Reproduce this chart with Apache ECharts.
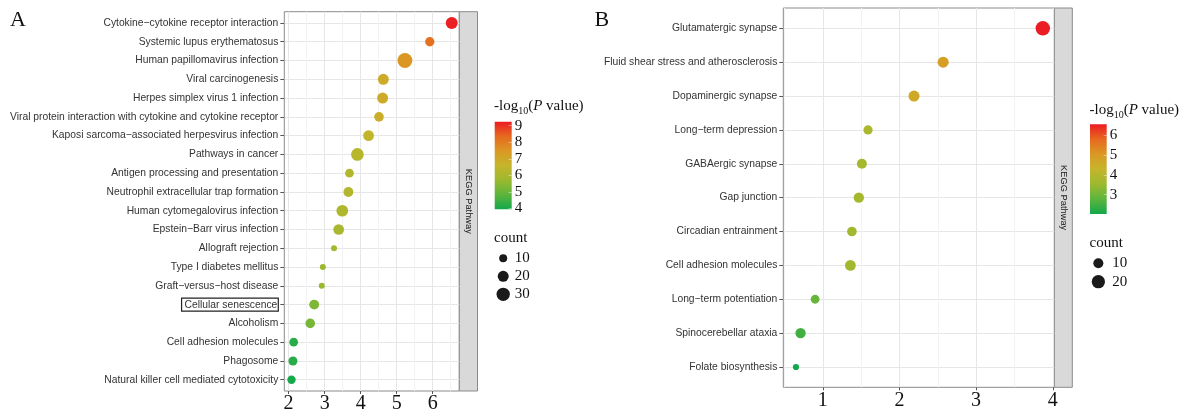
<!DOCTYPE html>
<html><head><meta charset="utf-8">
<script src="https://cdn.jsdelivr.net/npm/echarts@6/dist/echarts.min.js"></script>
<style>html,body{margin:0;padding:0;background:#fff}#c{width:1182px;height:414px}</style>
</head><body><div id="c"></div>
<script>
// ---------- Panel A data ----------
const catA = ['Cytokine\u2212cytokine receptor interaction','Systemic lupus erythematosus','Human papillomavirus infection','Viral carcinogenesis','Herpes simplex virus 1 infection','Viral protein interaction with cytokine and cytokine receptor','Kaposi sarcoma\u2212associated herpesvirus infection','Pathways in cancer','Antigen processing and presentation','Neutrophil extracellular trap formation','Human cytomegalovirus infection','Epstein\u2212Barr virus infection','Allograft rejection','Type I diabetes mellitus','Graft\u2212versus\u2212host disease','Cellular senescence','Alcoholism','Cell adhesion molecules','Phagosome','Natural killer cell mediated cytotoxicity'];
const xA = [6.53, 5.92, 5.23, 4.63, 4.61, 4.51, 4.22, 3.91, 3.69, 3.66, 3.49, 3.39, 3.26, 2.95, 2.92, 2.71, 2.60, 2.14, 2.12, 2.08];
const pA = [9.2, 8.2, 7.5, 6.9, 6.9, 6.8, 6.5, 6.3, 6.2, 6.2, 6.1, 6.0, 5.9, 5.7, 5.7, 5.3, 5.2, 4.2, 4.2, 4.0];
const cntA = [24, 14, 38, 20, 20, 15, 19, 27, 12, 16, 23, 19, 5, 5, 5, 16, 15, 12, 13, 11];
const xTicksA = [2, 3, 4, 5, 6];
const xMinorA = [2.5, 3.5, 4.5, 5.5, 6.5];
const colorTicksA = [4, 5, 6, 7, 8, 9];
const countLegendA = [10, 20, 30];
const boxedA = 'Cellular senescence';

// ---------- Panel B data ----------
const catB = ['Glutamatergic synapse','Fluid shear stress and atherosclerosis','Dopaminergic synapse','Long\u2212term depression','GABAergic synapse','Gap junction','Circadian entrainment','Cell adhesion molecules','Long\u2212term potentiation','Spinocerebellar ataxia','Folate biosynthesis'];
const xB = [3.87, 2.57, 2.19, 1.59, 1.51, 1.47, 1.38, 1.36, 0.90, 0.71, 0.65];
const pB = [6.56, 4.9, 4.6, 3.8, 3.7, 3.7, 3.6, 3.6, 2.9, 2.5, 2.02];
const cntB = [24, 13, 13, 8, 10, 11, 9, 12, 7, 11, 2];
const xTicksB = [1, 2, 3, 4];
const xMinorB = [0.5, 1.5, 2.5, 3.5];
const colorTicksB = [3, 4, 5, 6];
const countLegendB = [10, 20];

// ---------- styling ----------
const gradColors = ['#12A84B','#5DB53C','#9CB92F','#C5B52B','#DB9824','#E6691F','#EC1C24'];
const rangeA = [3.95, 9.24], rangeB = [2.02, 6.56];
const sizeA = c => Math.sqrt(5.65 * c + 7.5);
const sizeB = c => Math.sqrt(7.7 * c + 23);
const SERIF = '"Liberation Serif","Times New Roman",serif';
const SANS = '"Liberation Sans",Arial,Helvetica,sans-serif';
const BORDER = '#8a8a8a', MAJOR = '#E6E6E6', MINOR = '#F2F2F2', TICK = '#555', LABEL = '#333';

function grad() {
  return {type:'linear', x:0, y:1, x2:0, y2:0, global:false,
    colorStops: gradColors.map((c, i) => ({offset: i / (gradColors.length - 1), color: c}))};
}
const idx = arr => arr.map((_, i) => i);

function mainX(grid, min, max, ticks) {
  return {gridIndex: grid, type:'value', min, max, position:'bottom',
    axisLine:{show:false, onZero:false},
    axisTick:{show:true, customValues:ticks, length:3, lineStyle:{color:TICK}},
    axisLabel:{customValues:ticks, fontFamily:SERIF, fontSize:20, color:'#111', margin:3},
    splitLine:{show:true, lineStyle:{color:MAJOR, width:1}}};
}
function minorX(grid, min, max, ticks) {
  return {gridIndex: grid, type:'value', min, max, position:'top',
    axisLine:{show:false, onZero:false}, axisTick:{show:false, customValues:ticks}, axisLabel:{show:false},
    splitLine:{show:true, lineStyle:{color:MINOR, width:1}}};
}
function catY(grid, cats, boxed) {
  const ids = idx(cats);
  return {gridIndex: grid, type:'value', inverse:true, min:-0.6, max:cats.length - 1 + 0.6,
    axisLine:{show:false, onZero:false},
    axisTick:{show:true, customValues:ids, length:4, lineStyle:{color:TICK}},
    axisLabel:{customValues:ids, fontFamily:SANS, fontSize:10.3, color:LABEL, margin:6,
      formatter: v => { const n = cats[Math.round(v)]; return n === boxed ? '{box|' + n + '}' : n; },
      rich:{box:{fontFamily:SANS, fontSize:10.3, color:LABEL, borderColor:'#222', borderWidth:1.2, padding:[2,1,1,3]}}},
    splitLine:{show:true, lineStyle:{color:MAJOR, width:1}}};
}
function cbY(grid, range, ticks) {
  return {gridIndex: grid, type:'value', min:range[0], max:range[1], position:'right',
    axisLine:{show:false, onZero:false},
    axisTick:{show:true, inside:true, customValues:ticks, length:3, lineStyle:{color:'rgba(255,255,255,0.45)'}},
    axisLabel:{customValues:ticks, fontFamily:SERIF, fontSize:15, color:'#111', margin:3},
    splitLine:{show:false}};
}
function cntY(grid, vals, margin) {
  return {gridIndex: grid, type:'category', inverse:true, position:'right', data: vals.map(String),
    axisLine:{show:false, onZero:false}, axisTick:{show:false},
    axisLabel:{interval:0, fontFamily:SERIF, fontSize:15, color:'#111', margin}, splitLine:{show:false}};
}
const hiddenX = g => ({gridIndex:g, type:'value', min:-1, max:1, show:false, axisLine:{onZero:false}});

function titleText(x, y) {
  return {type:'text', x, y, silent:true, style:{
    text:'{a|-log}{s|10}{a|(}{i|P}{a| value)}', verticalAlign:'middle',
    rich:{
      a:{fontFamily:SERIF, fontSize:15, fill:'#111', lineHeight:20, verticalAlign:'middle'},
      s:{fontFamily:SERIF, fontSize:10, fill:'#111', lineHeight:20, verticalAlign:'bottom'},
      i:{fontFamily:SERIF, fontSize:15, fontStyle:'italic', fill:'#111', lineHeight:20, verticalAlign:'middle'}
    }}};
}
function plainText(x, y, t, font, size) {
  return {type:'text', x, y, silent:true, style:{text:t, fontFamily:font, fontSize:size, fill:'#111', verticalAlign:'middle'}};
}
function strip(x, y, w, h) {
  return [
    {type:'rect', silent:true, shape:{x, y, width:w, height:h}, style:{fill:'#D9D9D9', stroke:BORDER, lineWidth:1}},
    {type:'text', silent:true, x: x + w / 2, y: y + h / 2, rotation:-Math.PI / 2,
      style:{text:'KEGG Pathway', fontFamily:SANS, fontSize:9.3, fill:'#1a1a1a', align:'center', verticalAlign:'middle'}}
  ];
}

const option = {
  animation:false,
  backgroundColor:'#ffffff',
  grid:[
    {left:284.3, top:11.7, width:175, height:379.3, show:true, borderColor:BORDER, borderWidth:1, backgroundColor:'#fff'},
    {left:783.3, top:8, width:271, height:379.3, show:true, borderColor:BORDER, borderWidth:1, backgroundColor:'#fff'},
    {left:494.7, top:121.7, width:17, height:87.6, show:true, borderWidth:0, backgroundColor:grad()},
    {left:1090, top:124.3, width:16.7, height:89.7, show:true, borderWidth:0, backgroundColor:grad()},
    {left:494.7, top:249.3, width:17, height:54},
    {left:1090, top:254.1, width:16.7, height:36.8}
  ],
  xAxis:[
    mainX(0, 1.88, 6.74, xTicksA), minorX(0, 1.88, 6.74, xMinorA),
    mainX(1, 0.485, 4.02, xTicksB), minorX(1, 0.485, 4.02, xMinorB),
    hiddenX(2), hiddenX(3), hiddenX(4), hiddenX(5)
  ],
  yAxis:[
    catY(0, catA, boxedA), catY(1, catB, null),
    cbY(2, rangeA, colorTicksA), cbY(3, rangeB, colorTicksB),
    cntY(4, countLegendA, 3), cntY(5, countLegendB, 5.5)
  ],
  visualMap:[
    {type:'continuous', show:false, seriesIndex:0, dimension:2, min:rangeA[0], max:rangeA[1], inRange:{color:gradColors}},
    {type:'continuous', show:false, seriesIndex:1, dimension:2, min:rangeB[0], max:rangeB[1], inRange:{color:gradColors}}
  ],
  series:[
    {type:'scatter', xAxisIndex:0, yAxisIndex:0, data:xA.map((x, i) => [x, i, pA[i], cntA[i]]),
      symbolSize: v => sizeA(v[3]), itemStyle:{opacity:1}, z:3},
    {type:'scatter', xAxisIndex:2, yAxisIndex:1, data:xB.map((x, i) => [x, i, pB[i], cntB[i]]),
      symbolSize: v => sizeB(v[3]), itemStyle:{opacity:1}, z:3},
    {type:'scatter', xAxisIndex:6, yAxisIndex:4, data:countLegendA.map((c, i) => [0, i, c]),
      symbolSize: v => sizeA(v[2]), itemStyle:{color:'#1a1a1a', opacity:1}},
    {type:'scatter', xAxisIndex:7, yAxisIndex:5, data:countLegendB.map((c, i) => [0, i, c]),
      symbolSize: v => sizeB(v[2]), itemStyle:{color:'#1a1a1a', opacity:1}}
  ],
  graphic:[
    plainText(10, 20, 'A', SERIF, 22),
    plainText(594.5, 20, 'B', SERIF, 22),
    ...strip(459.3, 11.7, 18.2, 379.3),
    ...strip(1054.3, 8, 18, 379.3),
    titleText(494, 106),
    titleText(1089.5, 110),
    plainText(494, 238, 'count', SERIF, 15),
    plainText(1089.5, 243, 'count', SERIF, 15)
  ]
};
const chart = echarts.init(document.getElementById('c'));
chart.setOption(option);
</script></body></html>
